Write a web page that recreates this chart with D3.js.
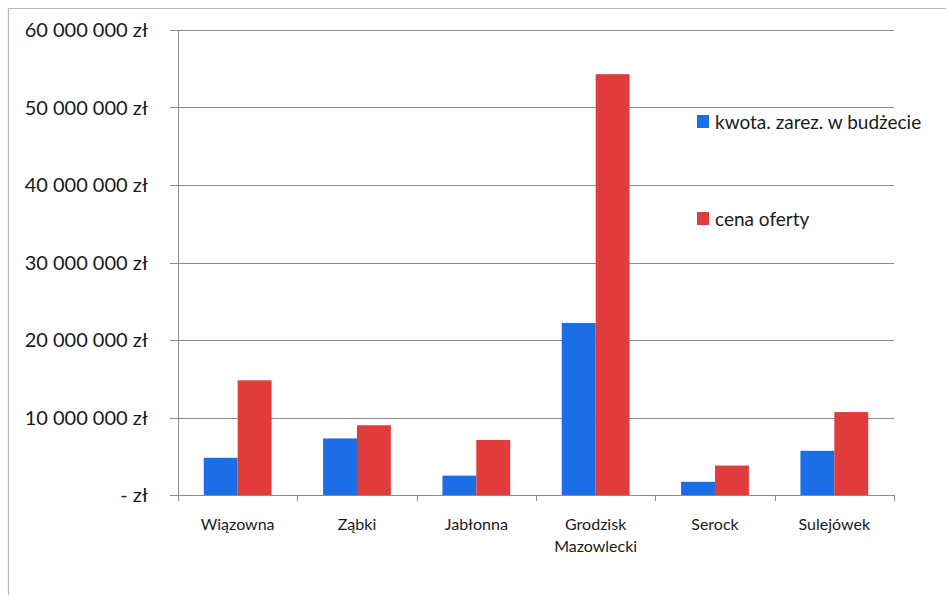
<!DOCTYPE html>
<html>
<head>
<meta charset="utf-8">
<script src="https://cdn.jsdelivr.net/npm/d3@7"></script>
<style>
  body { margin: 0; background: #fff; }
  text { font-family: Lato, "Open Sans", sans-serif; fill: #1a1a1a; }
</style>
</head>
<body>
<div id="container"></div>
<script>
const towns = ['Wiązowna', 'Ząbki', 'Jabłonna', 'Grodzisk Mazowlecki', 'Serock', 'Sulejówek'];
const budget = [4800000, 7300000, 2500000, 22200000, 1700000, 5700000];
const offer = [14800000, 9000000, 7100000, 54300000, 3800000, 10700000];
const seriesNames = ['kwota. zarez. w budżecie', 'cena oferty'];
const seriesColors = ['#1a6ee6', '#e03c3c'];
const yTicks = [0, 10000000, 20000000, 30000000, 40000000, 50000000, 60000000];

const width = 946, height = 595;
const margin = { top: 30, right: 52, bottom: 100, left: 178 };

const svg = d3.select("#container")
    .append("svg")
    .attr("width", width)
    .attr("height", height);

// outer frame (only top and left visible in the scan)
svg.append("path")
    .attr("d", `M8.5,${height} V8.5 H${width}`)
    .attr("fill", "none")
    .attr("stroke", "#b8b8b8")
    .attr("stroke-width", 1.2);

const xScale = d3.scaleBand()
    .domain(towns)
    .range([margin.left, width - margin.right]);

const inner = d3.scaleBand()
    .domain([0, 1])
    .range([0, xScale.bandwidth()])
    .paddingInner(0)
    .paddingOuter(0.76);

const yScale = d3.scaleLinear()
    .domain([0, 60000000])
    .range([height - margin.bottom, margin.top]);

const fmt = v => v === 0 ? '- zł' : d3.format(",")(v).replace(/,/g, ' ') + ' zł';

// gridlines
svg.append("g")
    .selectAll("line")
    .data(yTicks)
    .enter()
    .append("line")
    .attr("x1", margin.left - 8)
    .attr("x2", width - margin.right)
    .attr("y1", d => Math.round(yScale(d)) + 0.5)
    .attr("y2", d => Math.round(yScale(d)) + 0.5)
    .attr("stroke", "#8c8c8c")
    .attr("stroke-width", 1);

// y axis line
svg.append("line")
    .attr("x1", margin.left + 0.5)
    .attr("x2", margin.left + 0.5)
    .attr("y1", margin.top)
    .attr("y2", height - margin.bottom)
    .attr("stroke", "#8c8c8c");

// y labels
svg.append("g")
    .selectAll("text")
    .data(yTicks)
    .enter()
    .append("text")
    .attr("x", 148)
    .attr("y", d => yScale(d))
    .attr("dy", "0.35em")
    .attr("text-anchor", "end")
    .style("font-size", "20px")
    .text(fmt);

// bars
const series = [budget, offer];
series.forEach((vals, s) => {
    svg.append("g")
        .selectAll("rect")
        .data(vals)
        .enter()
        .append("rect")
        .attr("x", (d, i) => xScale(towns[i]) + inner(s))
        .attr("y", d => yScale(d))
        .attr("width", inner.bandwidth())
        .attr("height", d => yScale(0) - yScale(d))
        .attr("fill", seriesColors[s]);
});

// category ticks
const tickPos = towns.map(t => xScale(t)).concat([xScale.range()[1]]);
svg.append("g")
    .selectAll("line")
    .data(tickPos)
    .enter()
    .append("line")
    .attr("x1", d => Math.round(d) + 0.5)
    .attr("x2", d => Math.round(d) + 0.5)
    .attr("y1", yScale(0))
    .attr("y2", yScale(0) + 6)
    .attr("stroke", "#8c8c8c");

// x labels
const xl = svg.append("g")
    .selectAll("text")
    .data(towns)
    .enter()
    .append("text")
    .attr("x", d => xScale(d) + xScale.bandwidth() / 2)
    .attr("y", 530)
    .attr("text-anchor", "middle")
    .style("font-size", "16px");

xl.each(function(d) {
    const words = d.split(' ');
    const el = d3.select(this);
    words.forEach((w, i) => {
        el.append("tspan")
            .attr("x", xScale(d) + xScale.bandwidth() / 2)
            .attr("dy", i === 0 ? 0 : 22)
            .text(w);
    });
});

// legend
const legend = svg.append("g");
seriesNames.forEach((name, i) => {
    const ly = 115 + i * 97;
    legend.append("rect")
        .attr("x", 697)
        .attr("y", ly)
        .attr("width", 12)
        .attr("height", 13)
        .attr("fill", seriesColors[i]);
    legend.append("text")
        .attr("x", 715)
        .attr("y", ly + 7)
        .attr("dy", "0.35em")
        .style("font-size", "19px")
        .text(name);
});
</script>
</body>
</html>
